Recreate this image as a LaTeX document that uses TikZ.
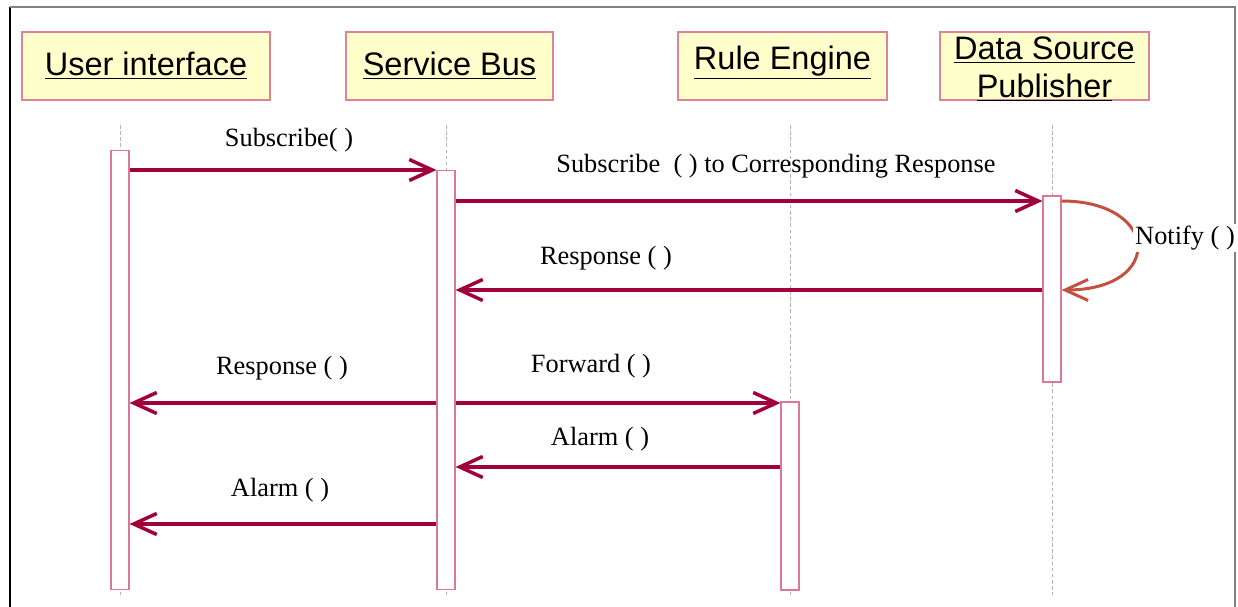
\documentclass[tikz,border=0pt]{standalone}
\usepackage{fontspec}
\setmainfont{Liberation Serif}
\newfontfamily\headfont{Liberation Sans}
\usetikzlibrary{arrows.meta}
\definecolor{msgred}{RGB}{160,0,60}
\definecolor{notifyred}{RGB}{196,80,64}
\definecolor{boxfill}{RGB}{255,255,204}
\definecolor{boxedge}{RGB}{222,130,150}
\definecolor{baredge}{RGB}{220,120,150}
\begin{document}
\begin{tikzpicture}[x=0.02cm, y=-0.02cm,
    head/.style={draw=boxedge, fill=boxfill, line width=0.6pt, minimum height=1.36cm,
        inner sep=0pt, font=\headfont\fontsize{18.5}{21.5}\selectfont},
    act/.style={draw=baredge, fill=white, line width=0.6pt, minimum width=0.36cm, inner sep=0pt},
    life/.style={gray!60, line width=0.3pt, dash pattern=on 2pt off 1.5pt},
    msg/.style={msgred, line width=2pt, -{Straight Barb[length=0.46cm,width=0.42cm]}},
    notify/.style={notifyred, line width=1.7pt, -{Straight Barb[length=0.46cm,width=0.42cm]}},
    lbl/.style={font=\fontsize{15}{17}\selectfont, inner sep=1pt}]
    \useasboundingbox (0,0) rectangle (1238,607);

    % Рамка
    \draw[black, line width=0.8pt] (10,607) -- (10,7);
    \draw[gray, line width=0.8pt] (10,7) -- (1235,7) -- (1235,607);

    % Заголовки
    \node[head, minimum width=4.96cm] (ui) at (146,66) {\underline{User interface}};
    \node[head, minimum width=4.14cm] (bus) at (449.5,66) {\underline{Service Bus}};
    \path[head, draw=boxedge] (678,32) rectangle (887,100);
    \node[head, draw=none, fill=none] (rule) at (782.5,63) {\underline{Rule Engine}};
    \path[head, draw=boxedge] (940,32) rectangle (1149,100);
    \node[head, draw=none, fill=none, align=center] (pub) at (1044.5,69)
        {\underline{Data Source}\\\underline{Publisher}};

    % Линии жизни
    \foreach \x in {120,446,790,1052}
        \draw[life] (\x,125) -- (\x,595);

    % Активации
    \node[act, minimum height=8.8cm] (uiAct) at (120,370) {};
    \node[act, minimum height=8.4cm] (busAct) at (446,380) {};
    \node[act, minimum height=3.76cm] (ruleAct) at (790,496) {};
    \node[act, minimum height=3.72cm] (pubAct) at (1052,289) {};

    % Сообщения
    \draw[msg] (uiAct.east |- 0,170) -- (busAct.west |- 0,170);
    \draw[msg] (busAct.east |- 0,201) -- (pubAct.west |- 0,201);
    \draw[msg] (pubAct.west |- 0,290) -- (busAct.east |- 0,290);
    \draw[msg] (busAct.west |- 0,403) -- (uiAct.east |- 0,403);
    \draw[msg] (busAct.east |- 0,403) -- (ruleAct.west |- 0,403);
    \draw[msg] (ruleAct.west |- 0,467) -- (busAct.east |- 0,467);
    \draw[msg] (busAct.west |- 0,524) -- (uiAct.east |- 0,524);

    % Самовызов
    \draw[notify] (pubAct.east |- 0,201) .. controls (1160,201) and (1165,290) .. (pubAct.east |- 0,290);

    % Подписи
    \node[lbl] (subLbl) at (289,140) {Subscribe( )};
    \node[lbl] (subResLbl) at (776,166) {Subscribe\ \ ( ) to Corresponding Response};
    \node[lbl] (resLbl) at (606,258) {Response ( )};
    \node[lbl, fill=white] (notifyLbl) at (1185,238) {Notify ( )};
    \node[lbl] (uiResLbl) at (282,368) {Response ( )};
    \node[lbl] (fwdLbl) at (591,366) {Forward ( )};
    \node[lbl] (alarmLbl) at (600,439) {Alarm ( )};
    \node[lbl] (uiAlarmLbl) at (280,490) {Alarm ( )};
\end{tikzpicture}
\end{document}
